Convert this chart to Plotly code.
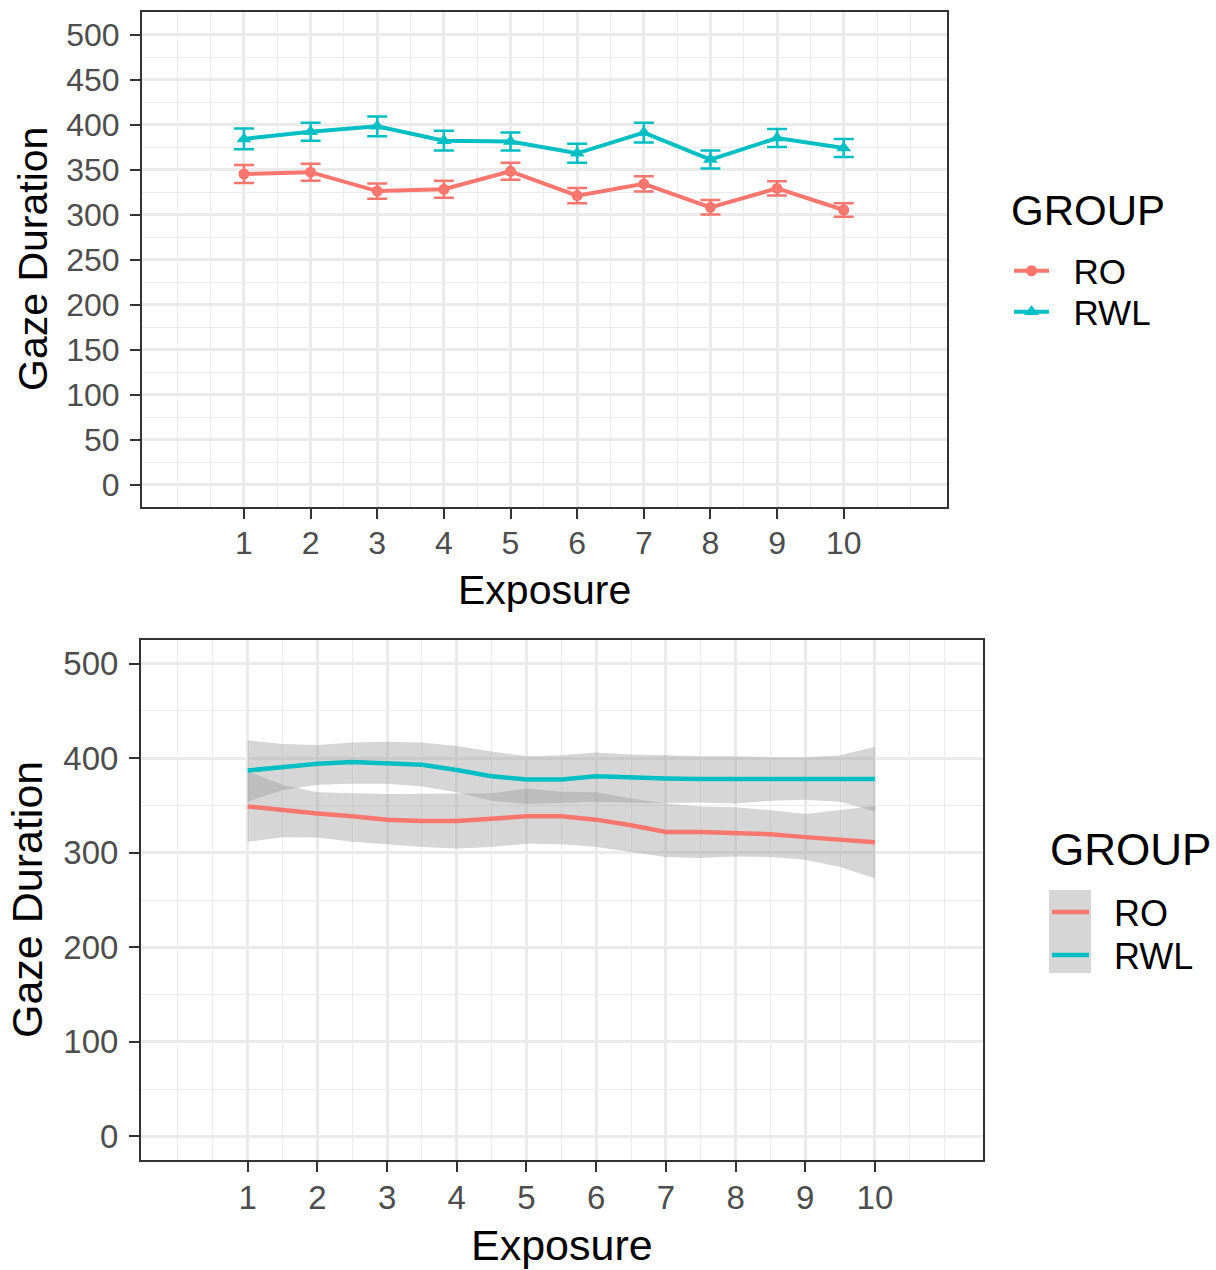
import plotly.graph_objects as go

W, H = 1216, 1270
FONT = "Liberation Sans, Arial, sans-serif"
RO_COLOR = "#F8766D"
RWL_COLOR = "#00BFC4"
GRID = "#EBEBEB"
BORDER = "#333333"
TICK_TEXT = "#4D4D4D"
NBSP = "\u00a0"

# ---- mean gaze duration per exposure, with standard errors ----
exposure = [1, 2, 3, 4, 5, 6, 7, 8, 9, 10]
ro_mean = [345, 347, 326, 328, 348, 321, 334, 308, 329, 305]
ro_se = [10, 9.5, 8.5, 9.5, 9.5, 8.5, 8.5, 8, 8, 7.5]
rwl_mean = [384, 392, 398, 382, 381, 368, 391, 361, 385, 374]
rwl_se = [11.5, 10, 11, 11, 10, 10.5, 11, 10, 10, 10]

# ---- smoothed fits with confidence bands ----
smooth_x = [1, 1.5, 2, 2.5, 3, 3.5, 4, 4.5, 5, 5.5, 6, 6.5, 7, 7.5, 8, 8.5, 9, 9.5, 10]
ro_fit = [349, 345, 341.5, 338.5, 335, 333.5, 333.5, 336, 338.5, 338.5, 335, 329, 322, 322, 321, 319.5, 316.5, 314, 311]
ro_hi = [386, 372, 364, 363, 362, 362.5, 363, 363, 368, 364.5, 364, 357.5, 352, 349, 348, 345, 341, 345, 349.5]
ro_lo = [311.5, 316.5, 316, 311.5, 309, 306, 304.5, 306, 309.5, 309, 306, 301, 295.5, 294.5, 296, 295.5, 292.5, 285, 273]
rwl_fit = [387, 391, 394, 396, 395, 393, 387.5, 381, 377.5, 377.5, 381, 379.5, 378.5, 378, 378, 378, 378, 378, 378]
rwl_hi = [419, 415, 414, 416.5, 417.5, 416.5, 413, 407, 402, 403, 406, 404, 403, 402, 402, 401, 401, 403, 412]
rwl_lo = [354, 366, 372, 373, 373, 370, 364, 355, 351.5, 353, 354, 353, 352.5, 353, 352, 355, 356, 354, 343.5]

# ---- axis breaks ----
x_minor = [0, 0.5, 1.5, 2.5, 3.5, 4.5, 5.5, 6.5, 7.5, 8.5, 9.5, 10.5, 11]
top_y_ticks = [0, 50, 100, 150, 200, 250, 300, 350, 400, 450, 500]
top_y_minor = [25, 75, 125, 175, 225, 275, 325, 375, 425, 475]
bot_y_ticks = [0, 100, 200, 300, 400, 500]
bot_y_minor = [50, 150, 250, 350, 450]


def px(x):
    return x / W


def py(y):
    return 1 - y / H


def key_label(name):
    # non-breaking spaces keep a gap between the legend key and its label
    return NBSP * 2 + name


fig = go.Figure()

# top panel: means with error bars, one legend box per group entry
for name, mean, se, color, symbol, msize, leg in [
    ("RO", ro_mean, ro_se, RO_COLOR, "circle", 11, "legend"),
    ("RWL", rwl_mean, rwl_se, RWL_COLOR, "triangle-up", 13, "legend2"),
]:
    fig.add_trace(go.Scatter(
        x=exposure, y=mean, name=key_label(name), mode="lines+markers",
        line=dict(color=color, width=4),
        marker=dict(symbol=symbol, size=msize, color=color),
        error_y=dict(type="data", array=se, visible=True,
                     color=color, thickness=2.5, width=10),
        xaxis="x", yaxis="y", legend=leg,
    ))

# bottom panel: confidence bands first, then the fitted lines
for lo, hi in [(ro_lo, ro_hi), (rwl_lo, rwl_hi)]:
    fig.add_trace(go.Scatter(
        x=smooth_x, y=lo, mode="lines", line=dict(width=0),
        showlegend=False, hoverinfo="skip", xaxis="x2", yaxis="y2",
    ))
    fig.add_trace(go.Scatter(
        x=smooth_x, y=hi, mode="lines", line=dict(width=0),
        fill="tonexty", fillcolor="rgba(153,153,153,0.4)",
        showlegend=False, hoverinfo="skip", xaxis="x2", yaxis="y2",
    ))
for name, fit, color, leg in [("RO", ro_fit, RO_COLOR, "legend3"),
                              ("RWL", rwl_fit, RWL_COLOR, "legend4")]:
    fig.add_trace(go.Scatter(
        x=smooth_x, y=fit, name=key_label(name), mode="lines",
        line=dict(color=color, width=4.5),
        xaxis="x2", yaxis="y2", legend=leg,
    ))


def x_axis(domain, anchor, size):
    return dict(
        domain=domain, anchor=anchor, range=[-0.53, 11.55],
        tickmode="array", tickvals=exposure,
        showgrid=True, gridcolor=GRID, gridwidth=2.5,
        minor=dict(tickmode="array", tickvals=x_minor, showgrid=True,
                   gridcolor=GRID, gridwidth=1.2, ticks=""),
        showline=True, mirror=True, linecolor=BORDER, linewidth=2,
        ticks="outside", ticklen=10, tickwidth=2, tickcolor=BORDER,
        tickfont=dict(family=FONT, size=size, color=TICK_TEXT),
        ticklabelstandoff=-3,
        zeroline=False, fixedrange=True,
    )


def y_axis(domain, anchor, ticks, minor, size):
    return dict(
        domain=domain, anchor=anchor, range=[-25, 525],
        tickmode="array", tickvals=ticks,
        showgrid=True, gridcolor=GRID, gridwidth=2.5,
        minor=dict(tickmode="array", tickvals=minor, showgrid=True,
                   gridcolor=GRID, gridwidth=1.2, ticks=""),
        showline=True, mirror=True, linecolor=BORDER, linewidth=2,
        ticks="outside", ticklen=10, tickwidth=2, tickcolor=BORDER,
        tickfont=dict(family=FONT, size=size, color=TICK_TEXT),
        ticklabelstandoff=4,
        zeroline=False, fixedrange=True,
    )


def legend_entry(x, y, size, itemwidth):
    return dict(
        x=px(x), y=py(y), xanchor="left", yanchor="middle",
        font=dict(family=FONT, size=size, color="black"),
        bgcolor="rgba(0,0,0,0)", itemwidth=itemwidth,
    )


annotations = [
    dict(text="Exposure", x=px(544), y=py(590), font=dict(size=41)),
    dict(text="Gaze Duration", x=px(33), y=py(259), textangle=-90, font=dict(size=41)),
    dict(text="Exposure", x=px(562), y=py(1245), font=dict(size=43)),
    dict(text="Gaze Duration", x=px(27), y=py(900), textangle=-90, font=dict(size=43)),
    dict(text="GROUP", x=px(1088), y=py(210), font=dict(size=42)),
    dict(text="GROUP", x=px(1130), y=py(849), font=dict(size=44)),
]
for a in annotations:
    a.update(xref="paper", yref="paper", showarrow=False,
             xanchor="center", yanchor="middle")
    a["font"].update(family=FONT, color="black")

fig.update_layout(
    width=W, height=H,
    margin=dict(l=0, r=0, t=0, b=0),
    paper_bgcolor="white", plot_bgcolor="white",
    font=dict(family=FONT, color="black"),
    xaxis=x_axis([px(142), px(947)], "y", 32),
    yaxis=y_axis([py(507), py(12)], "x", top_y_ticks, top_y_minor, 32),
    xaxis2=x_axis([px(141), px(983)], "y2", 33),
    yaxis2=y_axis([py(1160), py(640)], "x2", bot_y_ticks, bot_y_minor, 33),
    legend=legend_entry(1009, 271, 35, 35),
    legend2=legend_entry(1009, 312, 35, 35),
    legend3=legend_entry(1047, 912, 36, 37),
    legend4=legend_entry(1047, 955, 36, 37),
    shapes=[dict(type="rect", xref="paper", yref="paper",
                 x0=px(1049), x1=px(1091), y0=py(973), y1=py(890),
                 fillcolor="#D6D6D6", line=dict(width=0), layer="below")],
    annotations=annotations,
    showlegend=True,
)

fig.write_html("out.html")
